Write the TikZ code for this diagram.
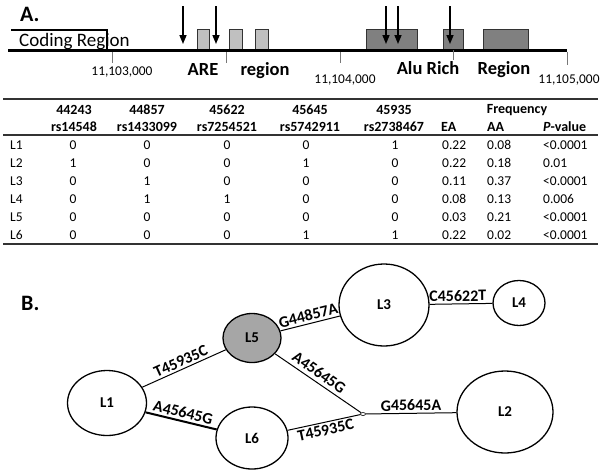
\documentclass[tikz,border=0pt]{standalone}
\usepackage{fontspec}
\setmainfont{Carlito}
\usetikzlibrary{shapes.geometric,arrows.meta}
\definecolor{lightbox}{HTML}{C0C0C0}
\definecolor{darkbox}{HTML}{808080}
\definecolor{hapgray}{HTML}{A6A6A6}
\definecolor{tickgray}{HTML}{777777}
\begin{document}
\begin{tikzpicture}[x=1pt,y=-1pt,
  panel/.style={font=\fontsize{22}{22}\selectfont\bfseries,inner sep=0pt,anchor=base west},
  coord/.style={font=\fontsize{13.4}{13.4}\selectfont,inner sep=0pt},
  region/.style={font=\fontsize{18.5}{18.5}\selectfont\bfseries,inner sep=0pt,anchor=base},
  tickmark/.style={draw=tickgray,line width=0.8pt},
  snp/.style={line width=1.5pt,-{Triangle[length=9pt,width=7pt]}},
  lbox/.style={draw=black!80,line width=0.7pt,fill=lightbox},
  dbox/.style={draw=black!80,line width=0.7pt,fill=darkbox},
  hd/.style={font=\fontsize{14}{14}\selectfont\bfseries,inner sep=0pt},
  cell/.style={font=\fontsize{13.5}{13.5}\selectfont,inner sep=0pt},
  hap/.style={draw,ellipse,line width=1.3pt,inner sep=0pt,font=\fontsize{15}{15}\selectfont\bfseries},
  lab/.style={font=\fontsize{16}{16}\selectfont\bfseries,sloped,inner sep=2pt},
  conn/.style={line width=1pt}]
\useasboundingbox (0,0) rectangle (604,474);
% ---------- Panel A ----------
\node[panel] (A) at (20,21) {A.};
\draw[line width=1.8pt] (11,30) -- (107,30) -- (107,50);
\node[font=\fontsize{19}{19}\selectfont,inner sep=0pt,anchor=base west] (coding) at (19,46) {Coding Region};
\fill[lbox] (197,29) rectangle (209,50);
\fill[lbox] (229,29) rectangle (242,50);
\fill[lbox] (255,29) rectangle (268,50);
\fill[dbox] (366,29) rectangle (417,50);
\fill[dbox] (443,29) rectangle (463,50);
\fill[dbox] (483,29) rectangle (528,50);
\draw[line width=3pt] (8,50) -- (567,50);
\draw[tickmark] (112,52) -- (112,63);
\draw[tickmark] (226,52) -- (226,63);
\draw[tickmark] (340,52) -- (340,63);
\draw[tickmark] (453,50) -- (453,60);
\draw[tickmark] (567,52) -- (567,65);
\foreach \x in {183,216,386,398,450} \draw[snp] (\x,6) -- (\x,44);
\node[coord] (c1) at (122,72) {11,103,000};
\node[coord] (c2) at (345,80) {11,104,000};
\node[coord] (c3) at (569,80) {11,105,000};
\node[region] (are) at (203,75) {ARE};
\node[region] (reg1) at (265,75) {region};
\node[region] (alu) at (428,74) {Alu Rich};
\node[region] (reg2) at (504,74) {Region};
% ---------- Table ----------
\draw[line width=2.3pt,black!80] (3,99) -- (598,99);
\draw[line width=1.3pt,black!80] (3,135) -- (598,135);
\draw[line width=1.3pt,black!80] (3,244) -- (598,244);
\node[hd] (h1a) at (74,110) {44243};
\node[hd] (h1b) at (74,127) {rs14548};
\node[hd] (h2a) at (147,110) {44857};
\node[hd] (h2b) at (147,127) {rs1433099};
\node[hd] (h3a) at (227,110) {45622};
\node[hd] (h3b) at (227,127) {rs7254521};
\node[hd] (h4a) at (310,110) {45645};
\node[hd] (h4b) at (310,127) {rs5742911};
\node[hd] (h5a) at (394,110) {45935};
\node[hd] (h5b) at (394,127) {rs2738467};
\node[hd] (freq) at (517,110) {Frequency};
\node[hd,anchor=west] (hea) at (441,127) {EA};
\node[hd,anchor=west] (haa) at (487,127) {AA};
\node[hd,anchor=west] (hp) at (543,127) {\textit{P}-value};
\foreach \r/\y/\a/\b/\c/\d/\e/\ea/\aa/\p in {
  1/145/0/0/0/0/1/0.22/0.08/<0.0001,
  2/163/1/0/0/1/0/0.22/0.18/0.01,
  3/181/0/1/0/0/0/0.11/0.37/<0.0001,
  4/199/0/1/1/0/0/0.08/0.13/0.006,
  5/217/0/0/0/0/0/0.03/0.21/<0.0001,
  6/235/0/0/0/1/1/0.22/0.02/<0.0001}{
  \node[cell,anchor=west] (r\r l) at (10,\y) {L\r};
  \node[cell] (r\r a) at (73,\y) {\a};
  \node[cell] (r\r b) at (147,\y) {\b};
  \node[cell] (r\r c) at (227,\y) {\c};
  \node[cell] (r\r d) at (306,\y) {\d};
  \node[cell] (r\r e) at (395,\y) {\e};
  \node[cell,anchor=west] (r\r ea) at (442,\y) {\ea};
  \node[cell,anchor=west] (r\r aa) at (487,\y) {\aa};
  \node[cell,anchor=west] (r\r p) at (543,\y) {\p};
}
% ---------- Panel B ----------
\node[panel] (B) at (21,310) {B.};
\node[hap,fill=hapgray,minimum width=58pt,minimum height=49pt] (L5) at (252,338) {L5};
\node[hap,minimum width=79pt,minimum height=65pt] (L1) at (107,403) {L1};
\node[hap,minimum width=72pt,minimum height=62pt] (L6) at (252,438) {L6};
\node[hap,minimum width=90pt,minimum height=82pt] (L3) at (384,305) {L3};
\node[hap,minimum width=52pt,minimum height=45pt] (L4) at (519,303) {L4};
\node[hap,minimum width=96pt,minimum height=82pt] (L2) at (505,412) {L2};
\node[draw,ellipse,line width=0.6pt,minimum width=5pt,minimum height=3pt,inner sep=0pt,fill=white] (j) at (363,414) {};
\draw[conn] (L1) -- node[lab,above] {T45935C} (L5);
\draw[line width=2pt] (L1) -- node[lab,above] {A45645G} (L6);
\draw[conn] (L5) -- node[lab,above] {G44857A} (L3);
\draw[conn] (L3) -- node[lab,above,pos=0.45] {C45622T} (L4);
\draw[conn] (L5) -- node[lab,above,pos=0.45,inner sep=3.5pt] {A45645G} (j);
\draw[conn] (L6) -- node[lab,below,pos=0.5] {T45935C} (j);
\draw[conn] (j) -- node[lab,above] {G45645A} (L2);
\end{tikzpicture}
\end{document}
